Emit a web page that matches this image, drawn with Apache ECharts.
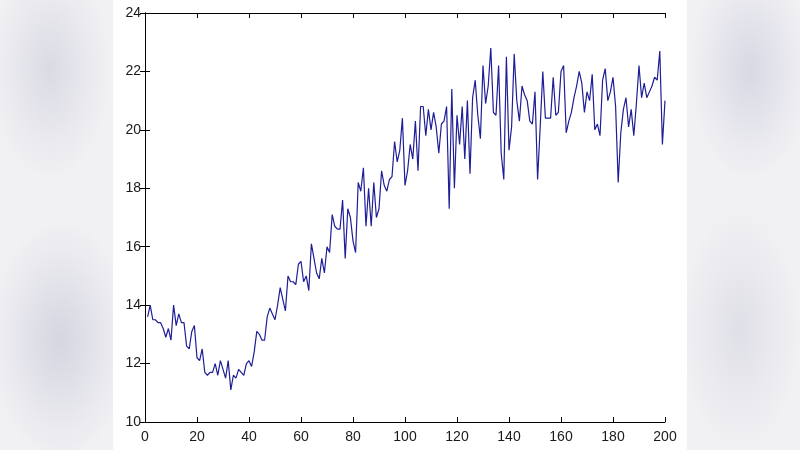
<!DOCTYPE html>
<html>
<head>
<meta charset="utf-8">
<script src="https://cdn.jsdelivr.net/npm/echarts@6/dist/echarts.min.js"></script>
<style>
html,body{margin:0;padding:0;width:800px;height:450px;overflow:hidden;}
body{background:
 radial-gradient(ellipse 60px 110px at 50px 70px, rgba(200,200,215,0.55), rgba(200,200,215,0) ),
 radial-gradient(ellipse 70px 120px at 60px 340px, rgba(195,195,212,0.6), rgba(195,195,212,0) ),
 radial-gradient(ellipse 60px 110px at 750px 70px, rgba(200,200,218,0.6), rgba(200,200,218,0) ),
 radial-gradient(ellipse 60px 120px at 740px 330px, rgba(205,205,218,0.5), rgba(205,205,218,0) ),
 #f1f1f4;}
#paper{position:absolute;left:113px;top:0;width:574px;height:450px;background:#fff;}
#chart{position:absolute;left:0;top:0;width:800px;height:450px;}
</style>
</head>
<body>
<div id="paper"></div>
<div id="chart"></div>
<script>
const xValues = [];
for (let i = 1; i <= 200; i++) xValues.push(i);
const yValues = [
13.6,14.0,13.5,13.5,13.4,13.4,13.2,12.9,13.2,12.8,
14.0,13.3,13.7,13.4,13.4,12.6,12.5,13.1,13.3,12.2,
12.1,12.5,11.7,11.6,11.7,11.7,12.0,11.6,12.1,11.8,
11.5,12.1,11.1,11.6,11.5,11.8,11.7,11.6,12.0,12.1,
11.9,12.4,13.1,13.0,12.8,12.8,13.6,13.9,13.7,13.5,
14.0,14.6,14.2,13.8,15.0,14.8,14.8,14.7,15.4,15.5,
14.8,15.0,14.5,16.1,15.6,15.1,14.9,15.6,15.1,16.0,
15.8,17.1,16.7,16.6,16.6,17.6,15.6,17.3,17.0,16.2,
15.8,18.2,17.9,18.7,16.7,18.0,16.7,18.2,17.0,17.3,
18.6,18.1,17.9,18.3,18.4,19.6,18.9,19.3,20.4,18.1,
18.6,19.5,19.0,20.3,18.6,20.8,20.8,19.8,20.7,20.0,
20.6,20.1,19.2,20.2,20.3,20.8,17.3,21.4,18.0,20.5,
19.5,20.8,19.0,21.0,18.5,21.1,21.7,20.5,19.7,22.2,
20.9,21.5,22.8,20.6,20.5,22.2,19.2,18.3,22.5,19.3,
20.1,22.6,21.0,20.3,21.5,21.2,21.0,20.3,20.2,21.3,
18.3,20.1,22.0,20.4,20.4,20.4,21.8,20.5,20.6,22.0,
22.2,19.9,20.3,20.6,21.1,21.5,22.0,21.6,20.6,21.3,
21.0,21.9,20.0,20.2,19.8,21.7,22.1,21.0,21.3,21.8,
20.8,18.2,19.9,20.7,21.1,20.1,20.7,19.8,20.9,22.2,
21.1,21.6,21.1,21.3,21.5,21.8,21.7,22.7,19.5,21.0
];
const xTicks = [0,20,40,60,80,100,120,140,160,180,200];
const yTicks = [10,12,14,16,18,20,22,24];

const data = xValues.map((x, i) => [x, yValues[i]]);
const font = {fontFamily: 'Liberation Sans, Arial, sans-serif', fontSize: 14, color: '#1a1a1a'};
const axLine = {show: true, lineStyle: {color: '#000', width: 1}};
const axTick = {show: true, inside: true, length: 5, lineStyle: {color: '#000', width: 1}};

const chart = echarts.init(document.getElementById('chart'), null, {renderer: 'canvas'});
chart.setOption({
  animation: false,
  backgroundColor: 'transparent',
  grid: {left: 145, right: 135, top: 13, bottom: 28, containLabel: false},
  xAxis: [
    {type: 'value', min: xTicks[0], max: xTicks[xTicks.length-1], interval: 20,
     axisLine: axLine, axisTick: axTick, splitLine: {show: false},
     axisLabel: Object.assign({margin: 8}, font)},
    {type: 'value', position: 'top', min: 0, max: 200, interval: 20,
     axisLine: axLine, axisTick: axTick, splitLine: {show: false}, axisLabel: {show: false}}
  ],
  yAxis: [
    {type: 'value', min: yTicks[0], max: yTicks[yTicks.length-1], interval: 2,
     axisLine: axLine, axisTick: axTick, splitLine: {show: false},
     axisLabel: Object.assign({margin: 4}, font)},
    {type: 'value', position: 'right', min: 10, max: 24, interval: 2,
     axisLine: axLine, axisTick: axTick, splitLine: {show: false}, axisLabel: {show: false}}
  ],
  series: [{
    type: 'line', data: data, xAxisIndex: 0, yAxisIndex: 0,
    showSymbol: false, symbol: 'none',
    lineStyle: {color: '#1e1e96', width: 1.2}
  }]
});
</script>
</body>
</html>
